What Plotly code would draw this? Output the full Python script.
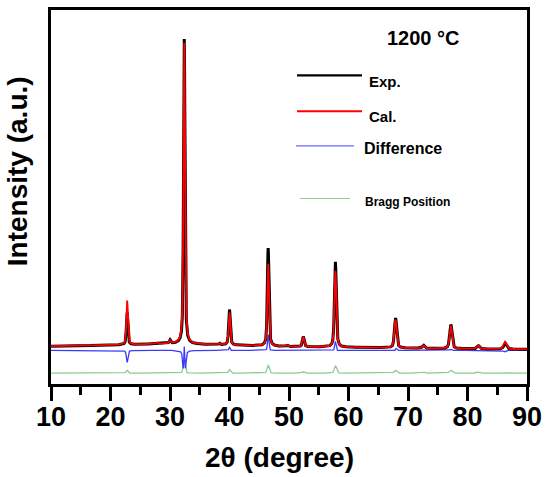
import numpy as np
import plotly.graph_objects as go

# ---- data (arbitrary intensity units) ----
# background of the experimental pattern
bg_pos = [10, 20, 30, 40, 50, 60, 70, 80, 90]
bg_val = [101, 104, 108, 104, 100, 98, 96, 94, 93]

# reflections: position (deg 2theta), exp height, cal height, FWHM
peak_pos = [22.8, 27.8, 30.0, 32.4, 38.3, 40.0, 46.5, 49.7, 52.4, 57.8, 67.9, 72.6, 77.2, 81.8, 86.3]
exp_height = [86, 2, 9, 815, 4, 95, 262, 3, 27, 228, 80, 8, 64, 9, 16]
cal_height = [118, 4, 7, 805, 4, 87, 220, 3, 26, 204, 76, 8, 61, 9, 20]
exp_shift = [0.0, 0.0, 0.0, 0.0, 0.0, 0.0, 0.0, 0.0, 0.0, 0.0, 0.01, 0.0, 0.0, 0.0, 0.02]
fwhm = [0.30, 0.3, 0.3, 0.32, 0.3, 0.34, 0.34, 0.35, 0.36, 0.38, 0.45, 0.45, 0.48, 0.5, 0.55]
exp_fwhm_ratio = [1.0, 1.0, 1.0, 0.9, 1.0, 0.97, 0.95, 1.0, 1.0, 0.96, 0.97, 1.0, 0.97, 1.0, 1.0]

# Bragg-position marker line (green) : baseline and bump heights
bragg_base = 29
bragg_height = [8, 0, 0, 42, 0, 10, 21, 0, 4, 19, 8, 3, 8, 3, 2]

diff_offset = 90

x_range = [10, 90]
y_range = [0, 1000]
x_ticks = [10, 20, 30, 40, 50, 60, 70, 80, 90]

legend_names = ["Exp.", "Cal.", "Difference", "Bragg Position"]
sample_label = "1200 °C"


def pv(x, c, h, w, eta=0.5):
    g = np.exp(-4 * np.log(2) * ((x - c) / w) ** 2)
    lo = 1.0 / (1.0 + 4 * ((x - c) / w) ** 2)
    return h * (eta * lo + (1 - eta) * g)


x = np.arange(10, 90.0001, 0.02)
bg = np.interp(x, bg_pos, bg_val)
exp = bg.copy()
cal = bg.copy()
bragg = np.full_like(x, bragg_base, dtype=float)
for p, he, hc, s, w, r, hb in zip(peak_pos, exp_height, cal_height, exp_shift, fwhm, exp_fwhm_ratio, bragg_height):
    exp += pv(x, p + s, he, w * r)
    cal += pv(x, p, hc, w)
    if hb:
        bragg += pv(x, p, hb, w * 1.2, eta=0.2)
diff = exp - cal + diff_offset

fig = go.Figure()
fig.add_trace(go.Scatter(x=x, y=bragg, mode="lines", line=dict(color="#8ccc8c", width=1.3), name=legend_names[3]))
fig.add_trace(go.Scatter(x=x, y=diff, mode="lines", line=dict(color="#3a3aff", width=1.3), name=legend_names[2]))
fig.add_trace(go.Scatter(x=x, y=exp, mode="lines", line=dict(color="black", width=3), name=legend_names[0]))
fig.add_trace(go.Scatter(x=x, y=cal, mode="lines", line=dict(color="#ff0000", width=1.8), name=legend_names[1]))

L, R, T, B = 51, 23, 7, 93
W, H = 550, 477
pw, ph = W - L - R, H - T - B


def px(xp):
    return (xp - L) / pw


def py(yp):
    return (H - B - yp) / ph


shapes = []
annotations = []
leg = [
    (297, 362, 73, "black", 2.2, 367, 79, 15),
    (297, 362, 109, "#ff0000", 2.0, 367, 114, 15),
    (296, 354, 144, "#6a6aff", 1.2, 362, 147, 16),
    (300, 350, 197, "#8ccc8c", 1.2, 363, 201, 12),
]
for (x0, x1, yl, col, lw, tx, ty, fs), name in zip(leg, legend_names):
    shapes.append(dict(type="line", xref="paper", yref="paper", x0=px(x0), x1=px(x1), y0=py(yl), y1=py(yl),
                       line=dict(color=col, width=lw)))
    annotations.append(dict(text=name, xref="paper", yref="paper", x=px(tx), y=py(ty), xanchor="left",
                            yanchor="middle", showarrow=False,
                            font=dict(family="Liberation Sans", size=fs, color="black", weight="bold")))

annotations.append(dict(text=sample_label, xref="paper", yref="paper", x=px(423), y=py(35), xanchor="center",
                        yanchor="middle", showarrow=False,
                        font=dict(family="Liberation Sans", size=20, color="black", weight="bold")))
annotations.append(dict(text="2θ (degree)", xref="paper", yref="paper", x=px(279), y=py(458), xanchor="center",
                        yanchor="middle", showarrow=False,
                        font=dict(family="Liberation Sans", size=28, color="black", weight="bold")))
annotations.append(dict(text="Intensity (a.u.)", xref="paper", yref="paper", x=px(17.5), y=py(170),
                        xanchor="center", yanchor="middle", textangle=-90, showarrow=False,
                        font=dict(family="Liberation Sans", size=28, color="black", weight="bold")))

fig.update_layout(
    width=W, height=H,
    margin=dict(l=L, r=R, t=T, b=B),
    paper_bgcolor="white", plot_bgcolor="white",
    showlegend=False,
    shapes=shapes,
    annotations=annotations,
    xaxis=dict(range=x_range, tickvals=x_ticks, ticks="outside", ticklen=14, tickwidth=3, tickcolor="black",
               showline=True, linewidth=3, linecolor="black", mirror=True, showgrid=False, zeroline=False,
               ticklabelstandoff=-7,
               tickfont=dict(family="Liberation Sans", size=27, color="black", weight="bold"),
               minor=dict(dtick=5, tick0=5, ticks="outside", ticklen=8, tickwidth=3, tickcolor="black",
                          showgrid=False)),
    yaxis=dict(range=y_range, showticklabels=False, ticks="", showline=True, linewidth=3, linecolor="black",
               mirror=True, showgrid=False, zeroline=False),
)

fig.write_html("out.html", config={"displayModeBar": False},
               post_script="document.body.style.margin='0';document.body.style.overflow='hidden';")
